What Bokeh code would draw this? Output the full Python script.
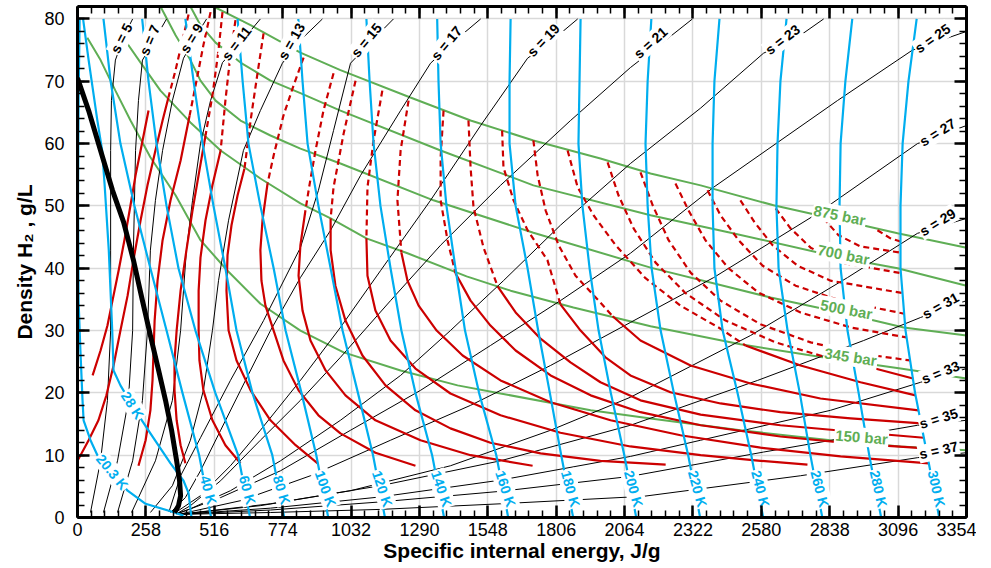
from bokeh.plotting import figure
from bokeh.models import Range1d, FixedTicker, LinearAxis, CustomJSTickFormatter
from bokeh.core.properties import value
from bokeh.embed import file_html
from bokeh.resources import INLINE

# ---------------- axes ----------------
x_ticks = [0, 258, 516, 774, 1032, 1290, 1548, 1806, 2064, 2322, 2580, 2838, 3096, 3354]
y_ticks = [0, 10, 20, 30, 40, 50, 60, 70, 80]

# ---------------- isotherms (blue): u [J/g] at these densities [g/L] ----------------
iso_rho = [80, 70, 60, 50, 40, 30, 20, 10, 0]
iso_names = ["40 K", "60 K", "80 K", "100 K", "120 K", "140 K", "160 K", "180 K",
             "200 K", "220 K", "240 K", "260 K", "280 K", "300 K"]
iso_u = [
    [98, 125, 162, 215, 275, 336, 396, 459, 504],
    [244, 268, 298, 336, 381, 445, 520, 606, 651],
    [407, 438, 472, 513, 558, 600, 660, 735, 780],
    [604, 623, 645, 690, 740, 785, 845, 901, 946],
    [833, 849, 868, 909, 955, 1000, 1058, 1115, 1160],
    [1090, 1102, 1117, 1143, 1181, 1222, 1275, 1338, 1383],
    [1357, 1362, 1370, 1392, 1426, 1462, 1515, 1580, 1625],
    [1634, 1630, 1630, 1653, 1698, 1738, 1782, 1825, 1870],
    [1898, 1894, 1890, 1905, 1932, 1966, 2012, 2063, 2108],
    [2165, 2151, 2143, 2151, 2166, 2200, 2250, 2304, 2349],
    [2422, 2403, 2396, 2396, 2403, 2434, 2490, 2542, 2587],
    [2675, 2652, 2641, 2637, 2645, 2679, 2725, 2765, 2810],
    [2923, 2897, 2879, 2875, 2879, 2905, 2947, 2987, 3032],
    [3166, 3135, 3113, 3105, 3105, 3124, 3160, 3206, 3251],
]
t203_u = [8, 4, 2, 4, 11, 19, 23, 49, 75, 132, 189, 257, 351, 400]
t203_rho = [80, 66.9, 50.9, 34.8, 26.8, 18.8, 15.6, 12.4, 10.0, 7.2, 4.3, 2.2, 1.0, 0.3]
t28_u = [21, 42, 75, 93, 102, 118, 131, 136, 162, 200, 238, 275, 351, 400, 419, 430]
t28_rho = [80, 73.4, 63.7, 58.9, 53.6, 42.9, 30.0, 23.6, 21.2, 18.5, 15.9, 13.5, 8.7, 5.9, 3.9, 0]

iso_label_text = ["20.3 K", "28 K"] + iso_names
iso_label_u = [131, 207, 494, 641, 770, 936, 1150, 1373, 1615, 1860, 2098, 2339, 2577, 2800, 3022, 3241]
iso_label_rho = [7.3, 18.0, 4.4, 4.4, 4.4, 4.6, 4.6, 4.6, 4.6, 4.6, 4.6, 4.6, 4.6, 4.6, 4.6, 4.6]
iso_label_angle = [-0.89, -1.0, -1.3, -1.3, -1.28, -1.22, -1.25, -1.25, -1.25, -1.3, -1.3,
                   -1.3, -1.32, -1.32, -1.35, -1.35]

# ---------------- isentropes (thin black) ----------------
s_names = ["s = 5", "s = 7", "s = 9", "s = 11", "s = 13", "s = 15", "s = 17", "s = 19", "s = 21",
           "s = 23", "s = 25", "s = 27", "s = 29", "s = 31", "s = 33", "s = 35", "s = 37"]
s_u = [
    [208, 177, 143, 128, 125, 125, 125, 113, 87, 49],
    [336, 294, 245, 230, 219, 211, 208, 192, 151, 98],
    [487, 449, 400, 358, 321, 294, 275, 264, 245, 208, 151],
    [690, 623, 547, 502, 464, 434, 411, 389, 358, 294, 204],
    [924, 841, 773, 690, 626, 570, 532, 509, 475, 426, 358, 275],
    [1192, 1113, 1030, 966, 909, 841, 702, 577, 464, 389, 345],
    [1521, 1426, 1332, 1219, 1068, 955, 841, 728, 615, 540, 464, 407, 351],
    [1887, 1792, 1698, 1521, 1332, 1143, 992, 841, 690, 577, 464, 370],
    [2320, 2219, 2086, 1860, 1596, 1370, 1181, 992, 841, 690, 540, 426, 374],
    [2815, 2728, 2588, 2351, 2086, 1822, 1607, 1407, 1219, 992, 766, 577, 426, 374],
    [3354, 3150, 2867, 2400, 2086, 1822, 1558, 1294, 1030, 766, 540, 377],
    [3354, 3169, 2792, 2400, 2086, 1785, 1483, 1181, 879, 615, 381],
    [3354, 3169, 2905, 2539, 2086, 1785, 1407, 1030, 690, 381],
    [3354, 3181, 2966, 2566, 2086, 1596, 1143, 728, 381],
    [3354, 3181, 2841, 2351, 2086, 1596, 1143, 728, 381],
    [3354, 3169, 2588, 2086, 1596, 1143, 728, 381],
    [3354, 3169, 2728, 2136, 1596, 1143, 728, 381],
]
s_rho = [
    [80, 77.4, 73.4, 66.9, 58.9, 42.9, 30.0, 18.8, 9.1, 0.8],
    [80, 76.9, 73.4, 66.9, 58.9, 42.9, 30.0, 18.8, 9.1, 0.8],
    [80, 77.4, 73.7, 66.9, 58.9, 50.9, 42.9, 30.0, 18.8, 9.1, 0.8],
    [80, 76.6, 73.0, 66.9, 60.0, 50.9, 42.9, 30.0, 18.8, 9.1, 0.8],
    [80, 76.6, 72.9, 65.3, 58.9, 47.7, 38.0, 30.0, 20.4, 12.4, 5.1, 0.8],
    [80, 76.6, 72.9, 62.1, 52.5, 43.3, 31.6, 22.0, 12.8, 6.7, 0.9],
    [80, 76.6, 72.9, 65.3, 54.9, 46.1, 38.5, 30.0, 20.4, 14.0, 7.5, 3.2, 0.8],
    [80, 76.6, 73.7, 62.9, 50.9, 39.6, 30.5, 22.0, 14.0, 8.3, 3.5, 0.8],
    [80, 76.6, 72.2, 63.7, 53.3, 43.7, 34.8, 25.7, 18.8, 12.4, 5.9, 1.9, 0.6],
    [80, 77.4, 74.5, 65.7, 56.8, 46.9, 38.0, 30.0, 22.8, 15.6, 9.1, 4.3, 1.4, 0.6],
    [78.0, 75.0, 66.9, 53.0, 42.4, 34.8, 27.6, 20.4, 14.0, 7.5, 3.2, 0.6],
    [62.9, 60.0, 48.8, 38.5, 31.3, 24.4, 18.0, 12.4, 6.7, 2.7, 0.5],
    [48.0, 45.6, 38.5, 29.2, 19.3, 14.0, 8.3, 4.3, 1.9, 0.5],
    [34.8, 32.1, 28.4, 22.0, 14.8, 9.1, 5.1, 2.2, 0.5],
    [23.9, 21.7, 17.2, 12.4, 9.8, 6.0, 3.3, 1.5, 0.5],
    [15.6, 14.8, 10.5, 6.6, 4.2, 2.5, 1.2, 0.5],
    [10.4, 9.6, 6.7, 3.4, 2.2, 1.3, 0.8, 0.5],
]
s_label_u = [166, 272, 430, 600, 807, 1090, 1392, 1758, 2162, 2660, 3226, 3245, 3245, 3256, 3256, 3249, 3249]
s_label_rho = [76.9, 76.6, 76.9, 76.1, 76.4, 76.6, 76.1, 76.6, 76.2, 76.7, 76.9, 61.8, 47.4, 34.0, 23.3, 15.9, 10.8]
s_label_angle = [1.10, 1.17, 1.03, 0.92, 1.05, 0.88, 0.88, 0.80, 0.73, 0.65, 0.61, 0.56, 0.55, 0.50, 0.38, 0.30, 0.22]

# ---------------- red curves: dashed part (above 345 bar) and solid part ----------------
red_dash_u = [
    [419, 396, 370, 343], [502, 475, 449, 423], [547, 532, 509, 483], [596, 577, 558, 540],
    [702, 675, 653, 630], [853, 815, 777, 740, 717], [966, 928, 898, 875, 860],
    [1049, 1004, 966, 955], [1150, 1117, 1094, 1090], [1249, 1219, 1207, 1222],
    [1381, 1370, 1370, 1396, 1426], [1475, 1483, 1494, 1532, 1585],
    [1602, 1607, 1645, 1698, 1773, 1822], [1720, 1736, 1766, 1815, 1879, 1966, 2019],
    [1849, 1887, 1947, 2030, 2143, 2275, 2426, 2520],
    [2000, 2041, 2098, 2181, 2294, 2445, 2634, 2841, 2984],
    [2124, 2170, 2230, 2313, 2426, 2577, 2766, 2954, 3142],
    [2256, 2305, 2369, 2456, 2569, 2728, 2917, 3128],
    [2377, 2426, 2494, 2585, 2709, 2879, 3119],
    [2501, 2554, 2622, 2717, 2841, 3114],
    [2634, 2690, 2766, 2879, 3108],
    [2815, 2871, 2954, 3105],
    [3018, 3067, 3105],
]
red_dash_rho = [
    [80.7, 76.6, 71.8, 67.4], [81.1, 75.8, 70.1, 64.5], [81.1, 75.0, 67.7, 61.3], [79.8, 74.2, 66.9, 58.9],
    [77.7, 70.1, 63.7, 56.0], [73.8, 69.3, 64.5, 58.1, 53.6], [71.3, 65.3, 58.9, 53.3, 49.3],
    [70.1, 61.6, 53.0, 48.0], [68.5, 60.5, 53.0, 44.8], [66.9, 58.9, 50.9, 42.5],
    [65.3, 57.8, 50.9, 44.5, 39.2], [63.7, 56.2, 49.8, 43.3, 37.1],
    [62.1, 56.2, 50.9, 46.1, 41.3, 34.2], [60.5, 54.9, 49.3, 43.7, 38.8, 34.8, 32.3],
    [58.9, 53.0, 48.5, 43.7, 38.4, 34.0, 30.3, 27.6],
    [57.0, 51.7, 46.4, 40.9, 36.0, 31.6, 28.1, 25.5, 24.2],
    [55.4, 50.1, 44.5, 39.3, 34.8, 31.0, 28.1, 26.3, 25.2],
    [53.6, 49.3, 44.5, 40.0, 36.1, 32.9, 30.5, 28.9],
    [52.5, 48.5, 44.5, 40.4, 37.2, 34.8, 32.7],
    [50.9, 47.4, 43.7, 40.4, 38.0, 36.0],
    [49.6, 46.4, 43.3, 40.9, 39.2],
    [48.0, 45.3, 43.5, 42.5],
    [46.1, 44.8, 44.3],
]
red_solid_u = [
    [343, 321, 294, 264, 238, 211, 189, 162, 136, 109, 79, 42, 0],
    [268, 253, 238, 219, 200, 177, 155, 132, 113, 87, 57],
    [423, 389, 351, 321, 302, 291, 287, 283, 275, 257, 230],
    [483, 460, 434, 411, 389, 374, 366, 366, 374, 389, 407],
    [540, 509, 483, 464, 457, 457, 460, 475, 509, 558, 615],
    [630, 604, 581, 566, 562, 570, 600, 653, 728, 823, 906],
    [717, 698, 690, 694, 709, 740, 777, 834, 909, 992, 1124, 1275],
    [860, 841, 834, 849, 879, 936, 1011, 1124, 1294, 1483, 1717],
    [955, 955, 973, 1011, 1075, 1162, 1275, 1407, 1558, 1747, 1973, 2219],
    [1090, 1094, 1124, 1181, 1275, 1407, 1596, 1822, 2086, 2351, 2577, 2754],
    [1222, 1245, 1287, 1355, 1453, 1596, 1785, 2011, 2275, 2577, 2879, 3212],
    [1426, 1483, 1558, 1653, 1785, 1936, 2124, 2351, 2652, 2917, 3201],
    [1585, 1653, 1747, 1860, 1973, 2124, 2351, 2652, 2917, 3193],
    [1822, 1898, 1992, 2086, 2237, 2426, 2652, 2917, 3183],
    [2019, 2124, 2313, 2539, 2803, 3173],
    [2520, 2728, 2954, 3162],
    [2984, 3152],
]
red_solid_rho = [
    [67.4, 63.7, 58.9, 53.3, 47.7, 41.3, 35.6, 30.0, 24.4, 19.6, 15.6, 12.4, 9.1],
    [65.3, 62.1, 58.9, 54.9, 50.1, 44.5, 39.6, 34.8, 30.8, 26.8, 22.8],
    [64.5, 57.3, 50.9, 44.5, 38.0, 31.6, 26.8, 22.0, 17.2, 12.4, 8.3],
    [61.3, 55.7, 49.3, 42.9, 36.4, 30.0, 25.2, 20.4, 15.6, 11.6, 8.7],
    [58.9, 53.3, 47.7, 41.7, 36.4, 30.0, 25.2, 20.4, 15.6, 11.6, 8.7],
    [56.0, 51.7, 46.9, 42.1, 36.4, 30.0, 25.2, 20.4, 15.6, 11.6, 8.7],
    [53.6, 47.7, 42.9, 38.0, 34.0, 30.0, 25.2, 20.4, 16.4, 13.5, 10.4, 8.3],
    [49.3, 43.7, 38.8, 33.2, 28.4, 23.6, 19.6, 15.6, 12.4, 10.0, 8.3],
    [48.0, 42.9, 37.2, 31.6, 26.0, 21.2, 17.2, 14.3, 12.0, 10.3, 9.1, 8.5],
    [44.8, 38.8, 33.2, 28.4, 23.9, 19.9, 16.4, 13.6, 11.4, 10.0, 9.1, 8.5],
    [42.5, 38.0, 34.0, 30.0, 26.0, 22.0, 18.5, 15.6, 13.2, 11.2, 9.8, 8.7],
    [39.2, 34.8, 30.8, 26.8, 22.8, 19.6, 16.9, 14.8, 13.0, 11.9, 11.1],
    [37.1, 32.9, 28.7, 24.9, 21.7, 18.8, 16.5, 14.8, 13.8, 12.8],
    [34.2, 30.0, 25.7, 22.8, 20.1, 18.3, 16.9, 15.9, 15.1],
    [32.3, 28.4, 24.4, 21.5, 19.1, 17.2],
    [27.6, 24.4, 21.7, 19.6],
    [24.2, 22.3],
]

# ---------------- isobars (green) ----------------
bar_names = ["150 bar", "345 bar", "500 bar", "700 bar", "875 bar"]
bar_u = [
    [37, 87, 143, 200, 275, 370, 464, 566, 690, 841, 1004, 1219, 1434, 1596, 1936, 2162, 2501, 2841, 3105, 3354],
    [174, 238, 313, 426, 540, 690, 841, 955, 1090, 1245, 1468, 1634, 1871, 2162, 2501, 2841, 3105, 3354],
    [313, 370, 426, 464, 521, 615, 728, 841, 992, 1343, 1720, 2162, 2615, 2879, 3117, 3354],
    [426, 464, 521, 615, 728, 841, 992, 1370, 1720, 2162, 2464, 2890, 3094, 3354],
    [513, 653, 841, 992, 1256, 1483, 1720, 1973, 2162, 2351, 2626, 2879, 3094, 3354],
]
bar_rho = [
    [77.0, 73.4, 68.5, 63.7, 57.8, 51.7, 44.5, 39.6, 34.3, 30.0, 26.5, 23.6, 21.2, 19.9, 17.2, 15.9, 14.0, 12.4, 11.4, 10.8],
    [76.9, 73.0, 68.5, 63.4, 58.9, 54.4, 50.4, 48.0, 44.8, 42.4, 38.7, 36.4, 33.7, 30.7, 27.8, 25.5, 23.9, 22.3],
    [82.0, 77.4, 73.4, 70.1, 66.9, 63.7, 61.3, 59.2, 56.8, 50.9, 45.7, 40.1, 35.3, 32.9, 30.5, 29.2],
    [82.0, 79.0, 76.2, 73.0, 70.1, 68.1, 65.3, 58.9, 53.3, 48.5, 45.7, 41.6, 40.0, 37.2],
    [82.0, 79.0, 74.6, 71.8, 67.4, 63.7, 60.5, 57.6, 55.2, 53.3, 50.1, 47.7, 45.6, 43.3],
]
bar_label_u = [2958, 2917, 2901, 2890, 2875]
bar_label_rho = [12.9, 25.8, 33.4, 42.2, 48.5]
bar_label_angle = [-0.08, -0.15, -0.19, -0.2, -0.2]

# ---------------- thick black boundary ----------------
bound_u = [0, 42, 87, 132, 174, 211, 245, 275, 306, 332, 355, 374, 385, 389, 381, 366]
bound_rho = [70.5, 65.3, 58.9, 52.5, 47.4, 41.3, 34.8, 29.2, 23.6, 18.8, 14.0, 9.1, 5.9, 3.5, 1.9, 0.8]

# ---------------- styling ----------------
FONT = "Liberation Sans"
BLUE = "#00AEEF"
RED = "#CC0000"
GREEN = "#5FAE55"

p = figure(frame_width=889, frame_height=511,
           x_range=Range1d(0, 3354), y_range=Range1d(0, 82),
           output_backend="svg", toolbar_location=None,
           min_border_left=77, min_border_right=10, min_border_top=6, min_border_bottom=0,
           background_fill_color="white", border_fill_color="white")
p.outline_line_color = None

minor_x = [round(i * 51.6, 1) for i in range(66)]
minor_y = list(range(0, 83, 2))
xt = FixedTicker(ticks=x_ticks, minor_ticks=minor_x)
yt = FixedTicker(ticks=y_ticks, minor_ticks=minor_y)

xa = p.below[0]
ya = p.left[0]
xa.ticker = xt
ya.ticker = yt
p.xgrid.ticker = xt
p.ygrid.ticker = yt
for g in (p.xgrid[0], p.ygrid[0]):
    g.grid_line_color = "#d9d9d9"
    g.grid_line_width = 1.5

top_ax = LinearAxis(ticker=xt, formatter=CustomJSTickFormatter(code="return ''"))
right_ax = LinearAxis(ticker=yt, formatter=CustomJSTickFormatter(code="return ''"))
p.add_layout(top_ax, "above")
p.add_layout(right_ax, "right")

for ax in (xa, ya, top_ax, right_ax):
    ax.axis_line_width = 3
    ax.axis_line_color = "black"
    ax.major_tick_in = 12
    ax.major_tick_out = 0
    ax.minor_tick_in = 7
    ax.minor_tick_out = 0
    ax.major_tick_line_width = 2.5
    ax.minor_tick_line_width = 1.5
    ax.major_tick_line_color = "black"
    ax.minor_tick_line_color = "black"
for ax in (top_ax, right_ax):
    ax.major_label_text_font_size = "0px"
    ax.major_label_standoff = 0

for ax in (xa, ya):
    ax.major_label_text_font = FONT
    ax.major_label_text_font_size = "18px"
    ax.major_label_text_color = "black"
    ax.axis_label_text_font = FONT
    ax.axis_label_text_font_style = "bold"
    ax.axis_label_text_font_size = "21px"
    ax.axis_label_text_color = "black"
xa.major_label_standoff = 5
xa.axis_label_standoff = 0
xa.axis_label = "Specific internal energy, J/g"
ya.major_label_standoff = 13
ya.axis_label_standoff = 5
ya.axis_label = "Density H\u2082 , g/L"

# ---------------- curves ----------------
p.multi_line(xs=bar_u, ys=bar_rho, line_color=GREEN, line_width=2)
p.multi_line(xs=s_u, ys=s_rho, line_color="black", line_width=1)
p.multi_line(xs=red_solid_u, ys=red_solid_rho, line_color=RED, line_width=2.2, line_join="round")
p.multi_line(xs=red_dash_u, ys=red_dash_rho, line_color=RED, line_width=2.2, line_dash="6 4")
p.multi_line(xs=iso_u, ys=[iso_rho] * len(iso_u), line_color=BLUE, line_width=2.2, line_join="round")
p.line(t203_u, t203_rho, line_color=BLUE, line_width=2.2, line_join="round")
p.line(t28_u, t28_rho, line_color=BLUE, line_width=2.2, line_join="round")
p.line(bound_u, bound_rho, line_color="black", line_width=5, line_join="round")

# ---------------- labels ----------------
common = dict(text_font=value(FONT), text_font_style="bold", text_align="center",
              text_baseline="middle", background_fill_color="white", padding=1)
p.text(x=s_label_u, y=s_label_rho, text=s_names, angle=s_label_angle,
       text_color="black", text_font_size=value("14px"), **common)
p.text(x=iso_label_u, y=iso_label_rho, text=iso_label_text, angle=iso_label_angle,
       text_color=BLUE, text_font_size=value("14px"), **common)
p.text(x=bar_label_u, y=bar_label_rho, text=bar_names, angle=bar_label_angle,
       text_color=GREEN, text_font_size=value("15px"), **common)

open("out.html", "w").write(file_html(p, INLINE))
